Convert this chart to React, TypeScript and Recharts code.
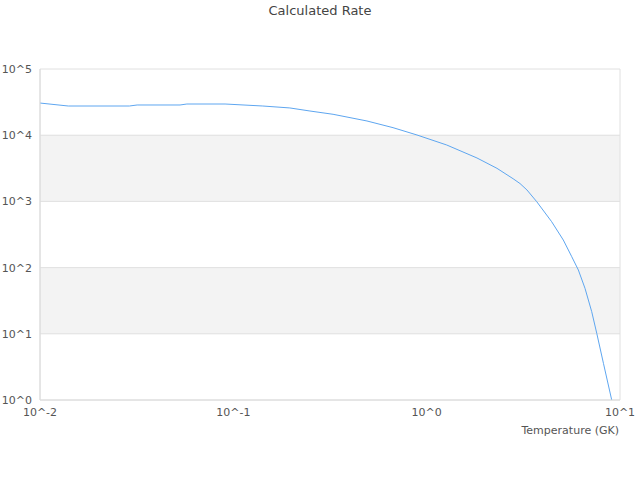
import * as React from 'react';
import { LineChart, Line, CartesianGrid, XAxis, YAxis } from 'recharts';

// temperature in GK, rate
const temperatures = [
  0.01, 0.014, 0.029, 0.0318, 0.053, 0.0575, 0.0906, 0.142, 0.196, 0.249,
  0.328, 0.491, 0.67, 0.891, 1.27, 1.82, 2.31, 2.8, 3.04, 3.3,
  3.71, 4.43, 5.09, 5.63, 6.09, 6.59, 7.14, 7.58, 8.21, 9.06,
];
const rates = [
  30600, 27600, 27600, 28600, 28600, 29600, 29600, 27600, 25800, 23200,
  20700, 16400, 13000, 10070, 7110, 4530, 3160, 2200, 1860, 1490,
  990, 494, 261, 146, 92, 48.7, 21.6, 10.2, 3.58, 1.0,
];
const xTicks = [0.01, 0.1, 1, 10];
const yTicks = [1, 10, 100, 1000, 10000, 100000];

const data = temperatures.map((t, i) => ({ t, rate: rates[i] }));

const font = '"DejaVu Sans", sans-serif';
const powLabel = (v: number) => `10^${Math.round(Math.log10(v))}`;

export default function App() {
  return (
    <div style={{ position: 'absolute', left: 0, top: 0, width: 640, height: 480, background: '#fff', fontFamily: font }}>
      <div style={{ position: 'absolute', top: 3, left: 0, width: 640, textAlign: 'center', fontSize: 13, color: '#444' }}>
        Calculated Rate
      </div>
      <LineChart
        width={640}
        height={480}
        data={data}
        margin={{ top: 69, right: 20, left: 0, bottom: 50 }}
      >
        <CartesianGrid
          stroke="#e0e0e0"
          horizontalFill={['#ffffff', '#f3f3f3']}
          verticalCoordinatesGenerator={({ offset }: any) => [offset.left, offset.left + offset.width]}
        />
        <XAxis
          dataKey="t"
          type="number"
          scale="log"
          domain={[0.01, 10]}
          ticks={xTicks}
          tickFormatter={powLabel}
          tickLine={false}
          axisLine={{ stroke: '#dcdcdc' }}
          height={30}
          tick={{ fill: '#555', fontSize: 11, fontFamily: font }}
          allowDataOverflow
        />
        <YAxis
          type="number"
          scale="log"
          domain={[1, 100000]}
          ticks={yTicks}
          tickFormatter={powLabel}
          tickLine={false}
          axisLine={{ stroke: '#dcdcdc' }}
          width={40}
          tick={{ fill: '#555', fontSize: 11, fontFamily: font }}
          allowDataOverflow
        />
        <Line
          type="linear"
          dataKey="rate"
          stroke="#5ea6f0"
          strokeWidth={1}
          dot={false}
          isAnimationActive={false}
        />
      </LineChart>
      <div style={{ position: 'absolute', top: 424, right: 21, fontSize: 11, color: '#555' }}>
        Temperature (GK)
      </div>
    </div>
  );
}
